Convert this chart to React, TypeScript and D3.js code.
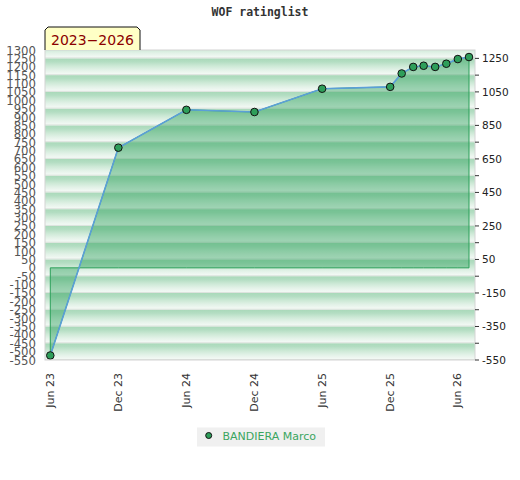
import React from "react";
import * as d3 from "d3";

const title = "WOF ratinglist";
const periodLabel = "2023−2026";
const playerName = "BANDIERA Marco";

const dates = [
  "2023-06-01", "2023-12-01", "2024-06-01", "2024-12-01", "2025-06-01",
  "2025-12-01", "2026-01-01", "2026-02-01", "2026-03-01", "2026-04-01",
  "2026-05-01", "2026-06-01", "2026-07-01",
];
const ratings = [-523, 717, 943, 930, 1069, 1080, 1160, 1199, 1206, 1199, 1218, 1246, 1258];

const xTickDates = ["2023-06-01", "2023-12-01", "2024-06-01", "2024-12-01", "2025-06-01", "2025-12-01", "2026-06-01"];
const xTickLabels = ["Jun 23", "Dec 23", "Jun 24", "Dec 24", "Jun 25", "Dec 25", "Jun 26"];

const leftTicks = d3.range(-550, 1301, 50);
const rightMinorTicks = d3.range(-550, 1251, 100);
const rightLabelTicks = d3.range(-550, 1251, 200);
const bandTops = d3.range(1350, -551, -100);

const W = 520;
const H = 480;
const L = 45, R = 475, T = 50, B = 360;

export default function App() {
  const parse = (s: string) => new Date(s + "T00:00:00Z");
  const x = d3.scaleUtc()
    .domain([parse(dates[0]), parse(dates[dates.length - 1])])
    .range([50.3, 469]);
  const y = d3.scaleLinear().domain([-550, 1300]).range([B, T]);

  const pts = dates.map((d, i) => ({ d: parse(d), v: ratings[i] }));
  const area = d3.area<{ d: Date; v: number }>()
    .x((p) => x(p.d))
    .y0(y(0))
    .y1((p) => y(p.v));
  const line = d3.line<{ d: Date; v: number }>()
    .x((p) => x(p.d))
    .y((p) => y(p.v));

  return (
    <svg width={W} height={H} style={{ position: "absolute", left: 0, top: 0, background: "#fff" }}>
      <defs>
        <linearGradient id="band" x1="0" y1="0" x2="0" y2="1">
          <stop offset="0" stopColor="#a9d9b9" />
          <stop offset="0.2" stopColor="#b3ddc2" />
          <stop offset="0.45" stopColor="#cde9d6" />
          <stop offset="0.7" stopColor="#e3f2e8" />
          <stop offset="0.9" stopColor="#f1f8f3" />
          <stop offset="1" stopColor="#f1f8f3" />
        </linearGradient>
        <clipPath id="plotClip">
          <rect x={L} y={T} width={R - L} height={B - T} />
        </clipPath>
      </defs>

      <text x={260} y={16} textAnchor="middle" fontFamily="DejaVu Sans Mono" fontWeight="bold" fontSize={11.5} fill="#333">
        {title}
      </text>

      <g clipPath="url(#plotClip)">
        <rect x={L} y={T} width={R - L} height={B - T} fill="#f1f8f3" />
        {bandTops.map((v) => (
          <g key={v}>
            <rect x={L} y={y(v)} width={R - L} height={y(v - 100) - y(v)} fill="url(#band)" />
            <rect x={L} y={y(v) - 1} width={R - L} height={1} fill="#dde3de" />
          </g>
        ))}
        <path d={area(pts) || ""} fill="#2ca05a" fillOpacity={0.42} stroke="#2ca05a" strokeWidth={1} />
        <path d={line(pts) || ""} fill="none" stroke="#5b9fd8" strokeWidth={1.6} />
        {pts.map((p, i) => (
          <circle key={i} cx={x(p.d)} cy={y(p.v)} r={3.8} fill="#2e9e5a" stroke="#111" strokeWidth={1} />
        ))}
      </g>

      <rect x={L} y={T} width={R - L} height={B - T} fill="none" stroke="#d4d4d4" strokeWidth={1} />

      {leftTicks.map((v) => (
        <text key={v} x={36} y={y(v)} textAnchor="end" dominantBaseline="central"
          fontFamily="DejaVu Sans Condensed, DejaVu Sans" fontStretch="condensed" fontSize={13} fill="#555">
          {v}
        </text>
      ))}

      {rightMinorTicks.map((v) => (
        <line key={v} x1={R} x2={R + 4} y1={y(v)} y2={y(v)} stroke="#333" strokeWidth={1} />
      ))}
      {rightLabelTicks.map((v) => (
        <text key={v} x={482} y={y(v)} dominantBaseline="central" fontFamily="DejaVu Sans" fontSize={10.5} fill="#222">
          {v}
        </text>
      ))}

      {xTickDates.map((d, i) => (
        <text key={d} transform={`translate(${x(parse(d))},373) rotate(-90)`} textAnchor="end"
          dominantBaseline="central" fontFamily="DejaVu Sans" fontSize={11} fill="#333">
          {xTickLabels[i]}
        </text>
      ))}

      <path d="M45,50 L45,30 L48,27 L137,27 L140,30 L140,50" fill="#ffffc6" stroke="#111" strokeWidth={1} />
      <text x={92.5} y={45} textAnchor="middle" fontFamily="DejaVu Sans" fontSize={14} fill="#8b0000">
        {periodLabel}
      </text>

      <rect x={197} y={427.5} width={128} height={19} fill="#f0f0f0" />
      <circle cx={208.7} cy={435.5} r={3} fill="#2e9e5a" stroke="#111" strokeWidth={1} />
      <text x={222.5} y={439.5} fontFamily="DejaVu Sans" fontSize={11} fill="#3aa55f">
        {playerName}
      </text>
    </svg>
  );
}
